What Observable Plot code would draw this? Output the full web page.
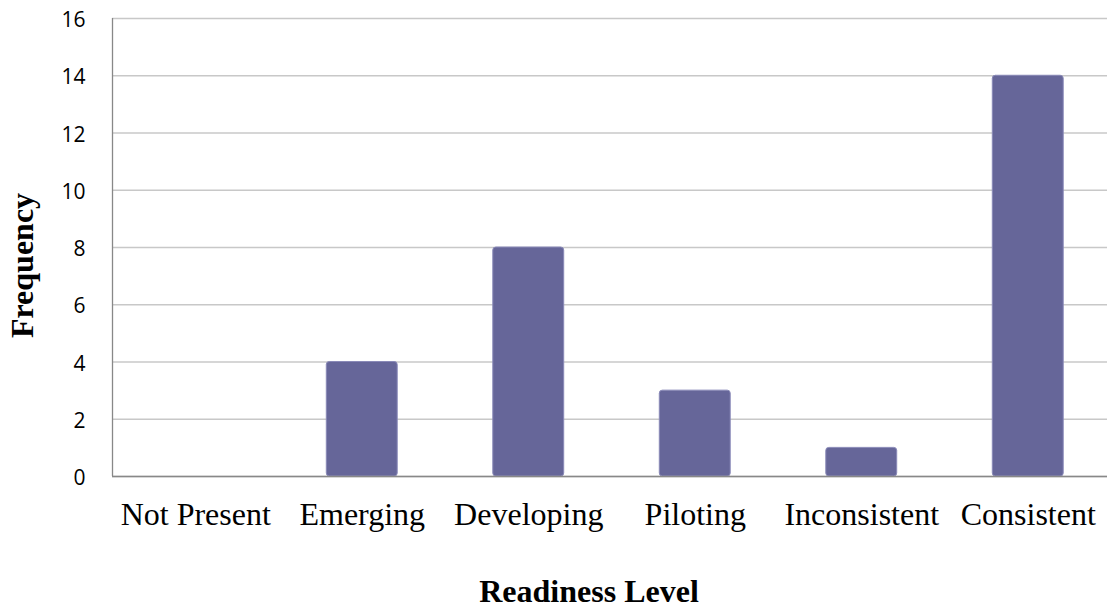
<!DOCTYPE html>
<html>
<head>
<meta charset="utf-8">
<script src="https://cdn.jsdelivr.net/npm/d3@7"></script>
<script src="https://cdn.jsdelivr.net/npm/@observablehq/plot@0.6"></script>
<style>
  html, body { margin: 0; padding: 0; background: #fff; }
  #chart { width: 1107px; height: 607px; }
</style>
</head>
<body>
<div id="chart"></div>
<script>
const categories = ["Not Present", "Emerging", "Developing", "Piloting", "Inconsistent", "Consistent"];
const frequencies = [0, 4, 8, 3, 1, 14];
const yTicks = [0, 2, 4, 6, 8, 10, 12, 14, 16];
const xTitle = "Readiness Level";
const yTitle = "Frequency";

const data = categories.map((c, i) => ({category: c, value: frequencies[i]}));

const W = 1107, H = 607;
const mL = 112, mR = 0, mT = 18, mB = 131;
const xLeft = 112, xRight = 1111;
const pInner = 0.574, pOuter = 0.287;
const step = (xRight - xLeft) / (categories.length - pInner + 2 * pOuter);

const chart = Plot.plot({
  width: W,
  height: H,
  marginLeft: mL,
  marginRight: mR,
  marginTop: mT,
  marginBottom: mB,
  style: {background: "#fff", overflow: "visible"},
  x: {domain: categories, range: [xLeft, xRight], round: false, paddingInner: pInner, paddingOuter: pOuter, label: null, axis: null},
  y: {domain: [0, 16], label: null, axis: null},
  marks: [
    Plot.gridY(yTicks, {stroke: "#c8c8c8", strokeOpacity: 1, strokeWidth: 1.3}),
    Plot.barY(data.filter(d => d.value > 0), {
      x: "category", y: "value", fill: "#666699", stroke: "#8a8ab8", strokeWidth: 1, rx: 3
    }),
    Plot.ruleY([0], {stroke: "#888", strokeWidth: 1.3}),
    Plot.ruleX([categories[0]], {dx: -step / 2, y1: 0, y2: 16, stroke: "#888", strokeWidth: 1.3}),
    Plot.axisY(yTicks, {
      tickSize: 0, tickPadding: 27, label: null,
      fontFamily: "Open Sans", fontSize: 21, fill: "#000", textAnchor: "end", dy: 2
    }),
    Plot.axisX({
      tickSize: 0, tickPadding: 26, label: null,
      fontFamily: "Liberation Serif", fontSize: 32, fill: "#000"
    }),
    Plot.text([xTitle], {
      frameAnchor: "bottom", lineAnchor: "middle", dx: -21, dy: 115, text: d => d,
      fontFamily: "Liberation Serif", fontWeight: "bold", fontSize: 32, fill: "#000"
    }),
    Plot.text([yTitle], {
      frameAnchor: "left", dx: -90, dy: 18, rotate: -90, text: d => d, textAnchor: "middle",
      fontFamily: "Liberation Serif", fontWeight: "bold", fontSize: 32, fill: "#000"
    })
  ]
});
document.getElementById("chart").appendChild(chart);
</script>
</body>
</html>
